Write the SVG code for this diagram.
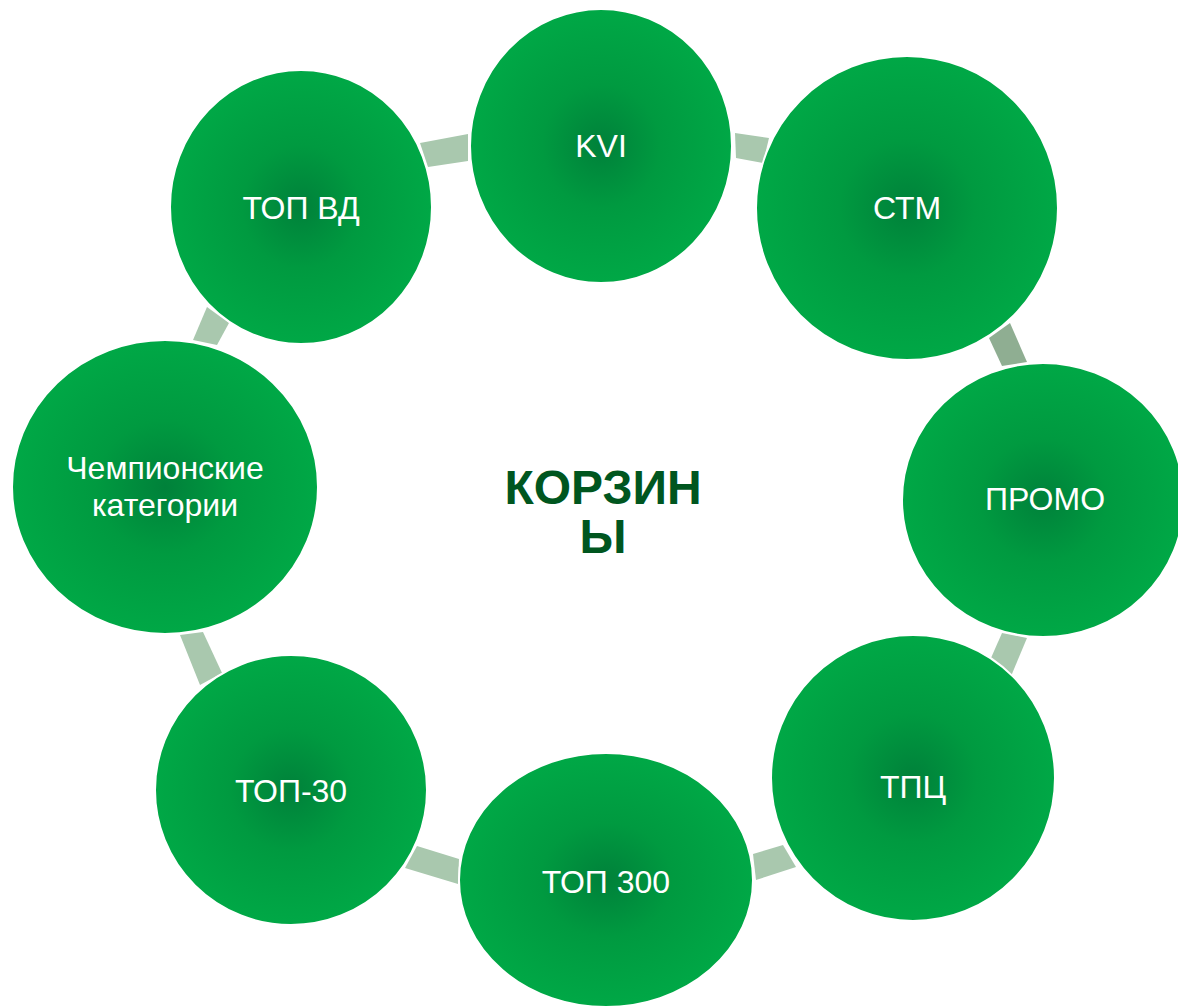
<svg xmlns="http://www.w3.org/2000/svg" width="1178" height="1007" viewBox="0 0 1178 1007">
<defs>
<radialGradient id="g" cx="50%" cy="50%" r="50%">
<stop offset="0" stop-color="#00813a"/>
<stop offset="0.45" stop-color="#009a40"/>
<stop offset="1" stop-color="#00a846"/>
</radialGradient>
<style>
.n{fill:url(#g);stroke:#ffffff;stroke-width:2}
.t{fill:#ffffff;font-family:"Liberation Sans",Arial,sans-serif;font-size:32px;text-anchor:middle}
.c{fill:#a9c8ae}
.cd{fill:#8fae92}
.h{fill:#00561f;font-family:"Liberation Sans",Arial,sans-serif;font-size:48px;font-weight:bold;text-anchor:middle}
</style>
</defs>
<rect width="1178" height="1007" fill="#ffffff"/>
<g id="connectors">
<polygon class="c" points="420,143 468,134 468,161 428,167"/>
<polygon class="c" points="735,133 769,138 763,163 736,158"/>
<polygon class="cd" points="989,338 1010,323 1027,362 1002,366"/>
<polygon class="c" points="1002,633 1027,638 1009,681 987,667"/>
<polygon class="c" points="753,854 783,845 796,867 756,880"/>
<polygon class="c" points="417,846 459,859 458,884 405,868"/>
<polygon class="c" points="180,635 203,632 222,673 200,685"/>
<polygon class="c" points="207,307 229,323 217,345 193,340"/>
</g>
<g id="node-kvi"><ellipse class="n" cx="601" cy="146" rx="131" ry="137"/><text class="t" x="601" y="157">KVI</text></g>
<g id="node-stm"><ellipse class="n" cx="907" cy="208" rx="151" ry="152"/><text class="t" x="907" y="219">СТМ</text></g>
<g id="node-promo"><ellipse class="n" cx="1043" cy="500" rx="141" ry="137"/><text class="t" x="1045" y="510">ПРОМО</text></g>
<g id="node-tpc"><ellipse class="n" cx="913" cy="778" rx="142" ry="143"/><text class="t" x="913" y="798">ТПЦ</text></g>
<g id="node-top300"><ellipse class="n" cx="606" cy="880" rx="147" ry="127"/><text class="t" x="606" y="893">ТОП 300</text></g>
<g id="node-top30"><ellipse class="n" cx="291" cy="790" rx="136" ry="135"/><text class="t" x="291" y="802">ТОП-30</text></g>
<g id="node-champ"><ellipse class="n" cx="165" cy="487" rx="153" ry="147"/><text class="t" x="165" y="479">Чемпионские</text><text class="t" x="165" y="516">категории</text></g>
<g id="node-topvd"><ellipse class="n" cx="301" cy="207" rx="131" ry="137"/><text class="t" x="301" y="219">ТОП ВД</text></g>
<g id="center"><text class="h" x="603" y="504">КОРЗИН</text><text class="h" x="603" y="553">Ы</text></g>
</svg>
